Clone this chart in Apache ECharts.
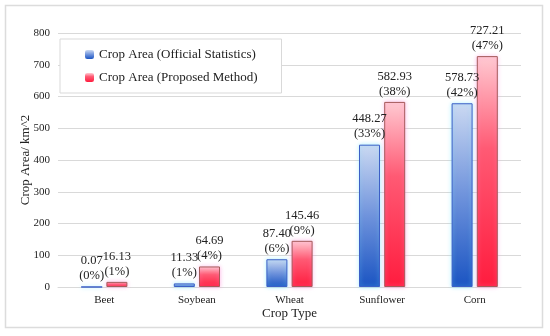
<!DOCTYPE html>
<html><head><meta charset="utf-8">
<script src="https://cdn.jsdelivr.net/npm/echarts@6/dist/echarts.min.js"></script>
<style>html,body{margin:0;padding:0;background:#fff}#c{width:550px;height:336px}</style>
</head><body><div id="c"></div>
<script>
var categories = ['Beet', 'Soybean', 'Wheat', 'Sunflower', 'Corn'];
var official = [0.07, 11.33, 87.40, 448.27, 578.73];
var officialPct = ['0%', '1%', '6%', '33%', '42%'];
var proposed = [16.13, 64.69, 145.46, 582.93, 727.21];
var proposedPct = ['1%', '4%', '9%', '38%', '47%'];
var yTicks = [0, 100, 200, 300, 400, 500, 600, 700, 800];

var FONT = 'Liberation Serif';
var chart = echarts.init(document.getElementById('c'));
var blueGrad = new echarts.graphic.LinearGradient(0, 0, 0, 1, [{offset: 0, color: '#cbd9f2'}, {offset: 0.5, color: '#6f93dc'}, {offset: 1, color: '#1a54c2'}]);
var redGrad = new echarts.graphic.LinearGradient(0, 0, 0, 1, [{offset: 0, color: '#ffcad2'}, {offset: 0.4, color: '#ff5a74'}, {offset: 1, color: '#ff1c3e'}]);
function lbl(pcts, vals) {
  return {
    show: true, position: 'top', distance: 3,
    fontFamily: FONT, fontSize: 12.5, color: '#222', lineHeight: 15,
    formatter: function (p) { return vals[p.dataIndex].toFixed(2) + '\n(' + pcts[p.dataIndex] + ')'; }
  };
}
chart.setOption({
  animation: false,
  graphic: [{
    type: 'rect', shape: {x: 5.5, y: 5.5, width: 537, height: 322},
    style: {fill: 'none', stroke: '#dcdcdc', lineWidth: 1.5}, z: -1
  }],
  grid: {left: 58, right: 29, top: 33, bottom: 49, containLabel: false, outerBoundsMode: 'none'},
  legend: {
    orient: 'vertical', left: 60, top: 39,
    padding: [9, 24, 9, 25], itemGap: 10,
    backgroundColor: '#fff', borderColor: '#d9d9d9', borderWidth: 1,
    itemWidth: 9, itemHeight: 9, itemStyle: {borderWidth: 0},
    textStyle: {fontFamily: FONT, fontSize: 13, color: '#222'},
    data: ['Crop Area (Official Statistics)', 'Crop Area (Proposed Method)']
  },
  xAxis: {
    type: 'category', data: categories,
    name: 'Crop Type', nameLocation: 'middle', nameGap: 20, nameMoveOverlap: false,
    nameTextStyle: {fontFamily: FONT, fontSize: 13, color: '#222'},
    axisLine: {lineStyle: {color: '#d9d9d9'}}, axisTick: {show: false},
    axisLabel: {fontFamily: FONT, fontSize: 11, color: '#222', margin: 8}
  },
  yAxis: {
    type: 'value', min: 0, max: 800, interval: 100,
    name: 'Crop Area/ km^2', nameLocation: 'middle', nameGap: 26, nameMoveOverlap: false,
    nameTextStyle: {fontFamily: FONT, fontSize: 13, color: '#222'},
    axisLine: {show: false}, axisTick: {show: false},
    splitLine: {lineStyle: {color: '#d9d9d9'}},
    axisLabel: {fontFamily: FONT, fontSize: 11, color: '#222', margin: 8,
      formatter: function (v) { return yTicks.indexOf(v) >= 0 ? String(v) : ''; }}
  },
  series: [{
    name: 'Crop Area (Official Statistics)', type: 'bar', data: official,
    barWidth: 21, barGap: '20%',
    itemStyle: {color: blueGrad, borderColor: '#3c5fc6', borderWidth: 1,
      shadowColor: 'rgba(120,230,255,0.6)', shadowBlur: 4},
    label: lbl(officialPct, official)
  }, {
    name: 'Crop Area (Proposed Method)', type: 'bar', data: proposed,
    barWidth: 21,
    itemStyle: {color: redGrad, borderColor: '#a55a5a', borderWidth: 1,
      shadowColor: 'rgba(255,150,220,0.6)', shadowBlur: 4},
    label: lbl(proposedPct, proposed)
  }]
});
</script></body></html>
